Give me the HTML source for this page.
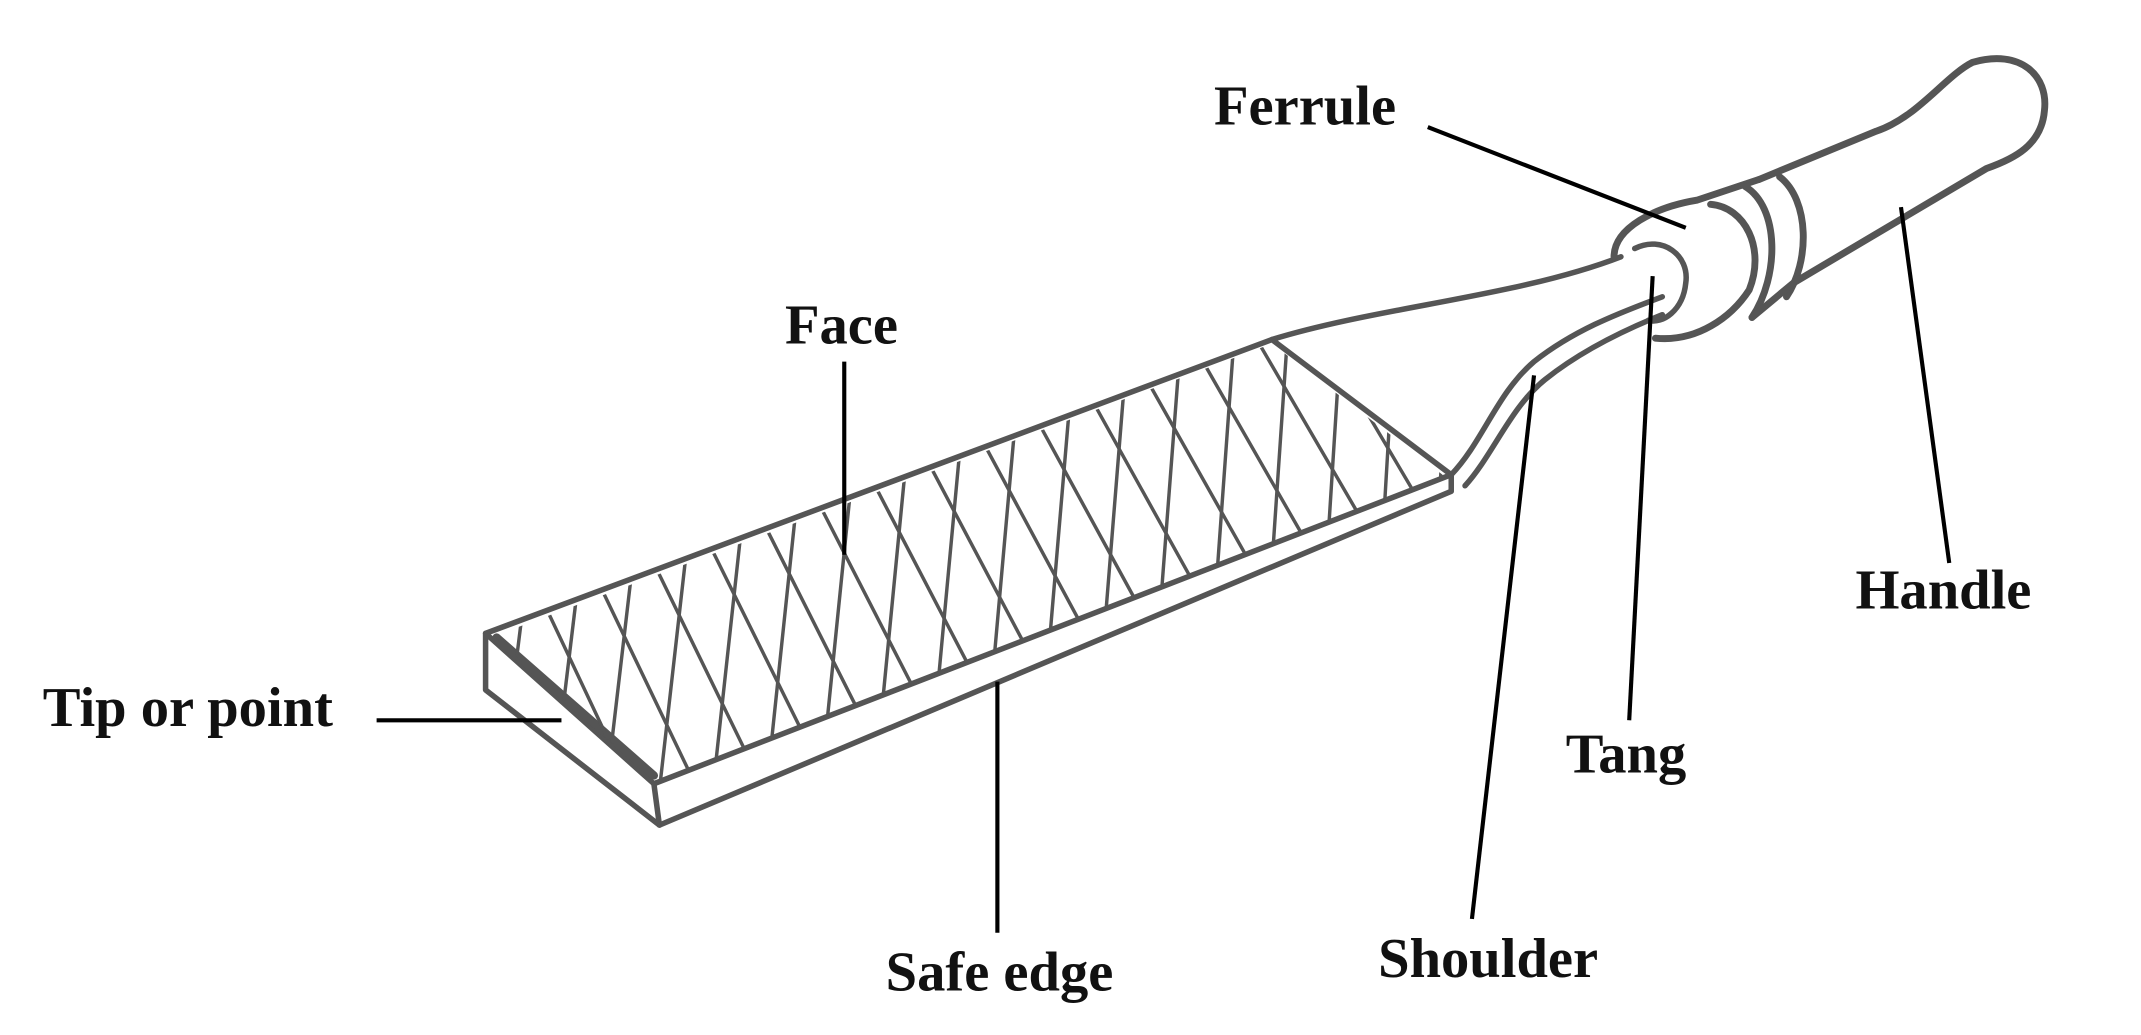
<!DOCTYPE html>
<html><head><meta charset="utf-8"><style>
html,body{margin:0;padding:0;background:#fff;}
svg{display:block}
text{font-family:"Liberation Serif",serif;font-weight:bold;font-size:41px;fill:#111}
</style></head><body>
<svg id="s" width="2141" height="1035" viewBox="0 0 1552 750" xmlns="http://www.w3.org/2000/svg">
<defs><clipPath id="cp"><polygon points="358,461 922,249 1047,345 474,566"/></clipPath></defs>
<g fill="none" stroke="#555" stroke-width="4" stroke-linejoin="round" stroke-linecap="round">
<polygon points="352,459 922,246 1052,344 474,568" fill="#fff"/>
<path d="M352,459 L352,500 L478,598 L474,568"/>
<path d="M360,462 L474,562" stroke-width="6"/>
<path d="M478,598 L1052,356 L1052,344"/>
<g id="hatch" clip-path="url(#cp)" stroke-width="2.5"></g>
<path d="M922,246 C1000,222 1100,215 1175,186"/>
<path d="M1052,344 C1075,320 1085,285 1112,262 C1140,240 1170,228 1205,215"/>
<path d="M1062,352 C1082,330 1095,295 1120,275 C1145,255 1175,240 1205,228"/>
<path d="M1170,186 C1170,165 1200,150 1230,145 L1275,130" stroke-width="5"/>
<path d="M1200,245 C1230,248 1255,230 1268,210 C1280,180 1265,150 1240,148" stroke-width="5"/>
<path d="M1265,135 C1290,150 1290,200 1270,230" stroke-width="5"/>
<path d="M1290,128 C1312,145 1312,190 1295,215" stroke-width="5"/>
<path d="M1185,180 C1205,170 1225,185 1222,205 C1220,225 1205,235 1195,232" stroke-width="4"/>
<path d="M1275,130 L1360,95 C1390,85 1410,55 1430,45 C1465,35 1485,55 1482,80 C1480,105 1460,115 1440,122 L1300,205 L1270,230" stroke-width="5"/>
</g>
<g stroke="#000" stroke-width="3">
<line x1="1035" y1="92" x2="1222" y2="165"/>
<line x1="612" y1="262" x2="612" y2="402"/>
<line x1="273" y1="522" x2="407" y2="522"/>
<line x1="723" y1="494" x2="723" y2="676"/>
<line x1="1112" y1="272" x2="1067" y2="666"/>
<line x1="1198" y1="200" x2="1181" y2="522"/>
<line x1="1378" y1="150" x2="1413" y2="408"/>
</g>
<text x="880" y="90">Ferrule</text>
<text x="569" y="249">Face</text>
<text x="31" y="526">Tip or point</text>
<text x="1345" y="441">Handle</text>
<text x="1135" y="560">Tang</text>
<text x="999" y="708">Shoulder</text>
<text x="642" y="718">Safe edge</text>
</svg>
<script>
(function(){var g=document.getElementById('hatch'),ns='http://www.w3.org/2000/svg';
function P(a,b,t){return [a[0]+(b[0]-a[0])*t,a[1]+(b[1]-a[1])*t];}
var A=[355,460],B=[922,247],D=[473,568],C=[1050,345];
function L(t,o){var p=P(A,B,t),q=P(D,C,t+o);
var l=document.createElementNS(ns,'line');l.setAttribute('x1',p[0]);l.setAttribute('y1',p[1]);l.setAttribute('x2',q[0]);l.setAttribute('y2',q[1]);g.appendChild(l);}
for(var t=-0.1;t<1.4;t+=0.07){L(t,-0.24);L(t+0.035,-0.1);}})();
</script>
</body></html>
